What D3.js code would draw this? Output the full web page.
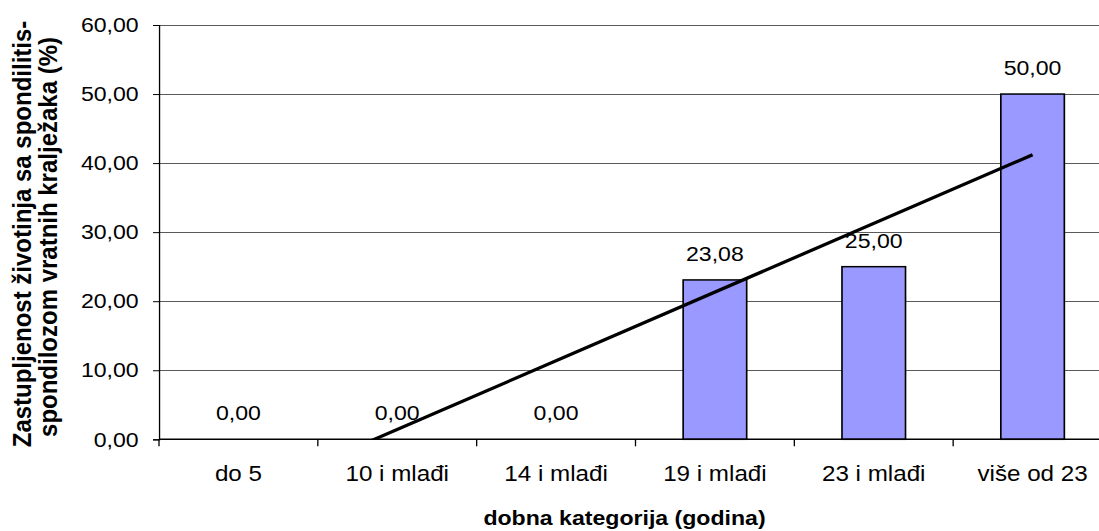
<!DOCTYPE html>
<html>
<head>
<meta charset="utf-8">
<script src="https://cdn.jsdelivr.net/npm/d3@7"></script>
<style>
    html, body { margin: 0; padding: 0; background: #fff; }
    svg { display: block; font-family: Arial, "Liberation Sans", sans-serif; }
</style>
</head>
<body>
<svg id="chart"></svg>
<script>
const categories = ['do 5', '10 i mlađi', '14 i mlađi', '19 i mlađi', '23 i mlađi', 'više od 23'];
const values     = [0, 0, 0, 23.08, 25, 50];
const yTicks     = [0, 10, 20, 30, 40, 50, 60];
const xTitle     = 'dobna kategorija (godina)';
const yTitle     = ['Zastupljenost životinja sa spondilitis-', 'spondilozom vratnih kralježaka (%)'];

const WIDTH  = 1099;
const HEIGHT = 531;
const SX     = 1.1;           // the source picture is a little wider than tall text would be

const BAR_COLOR = '#9999ff';

const hr = d3.formatLocale({ decimal: ',', thousands: '.', grouping: [3], currency: ['', ''] });
const fmt = hr.format('.2f');

const svg = d3.select('#chart')
    .attr('width', WIDTH)
    .attr('height', HEIGHT);

const root = svg.append('g').attr('transform', `scale(${SX},1)`);

// plot area, in unscaled units
const plotLeft   = 159 / SX;
const plotRight  = 1112 / SX;      // runs past the right edge like the original crop
const plotTop    = 25;
const plotBottom = 439.3;

const xCat = d3.scaleBand().domain(categories).range([plotLeft, plotRight]).padding(0);
const xBar = d3.scaleBand().domain(categories).range([plotLeft, plotRight]).paddingInner(0.6).paddingOuter(0.3);
const y    = d3.scaleLinear().domain([0, 60]).range([plotBottom, plotTop]);

// ── gridlines ──
root.append('g')
    .selectAll('line')
    .data(yTicks.filter(d => d > 0))
    .join('line')
    .attr('x1', plotLeft).attr('x2', plotRight)
    .attr('y1', d => Math.round(y(d)) + 0.5).attr('y2', d => Math.round(y(d)) + 0.5)
    .attr('stroke', '#5a5a5a')
    .attr('stroke-width', 1);

// ── y axis ──
const yAxis = root.append('g')
    .attr('transform', `translate(${plotLeft},0)`)
    .call(d3.axisLeft(y).tickValues(yTicks).tickFormat(fmt).tickSize(6 / SX).tickPadding(13));
yAxis.select('.domain').attr('stroke', '#000').attr('stroke-width', 1.2);
yAxis.selectAll('.tick line').attr('stroke', '#000');
yAxis.selectAll('.tick text')
    .attr('font-size', '21px')
    .attr('font-family', 'Arial, "Liberation Sans", sans-serif')
    .attr('fill', '#000');

// ── bars ──
const chart = root.append('g');
chart.selectAll('rect')
    .data(values.map((v, i) => ({ cat: categories[i], v })).filter(d => d.v > 0))
    .join('rect')
    .attr('x', d => xBar(d.cat))
    .attr('y', d => y(d.v))
    .attr('width', xBar.bandwidth())
    .attr('height', d => y(0) - y(d.v))
    .attr('fill', BAR_COLOR)
    .attr('stroke', '#000')
    .attr('stroke-width', 1.5);

// ── x axis ──
root.append('line')
    .attr('x1', plotLeft).attr('x2', plotRight)
    .attr('y1', y(0)).attr('y2', y(0))
    .attr('stroke', '#000')
    .attr('stroke-width', 1.4);

root.append('g')
    .selectAll('line')
    .data(categories.concat(['__end']))
    .join('line')
    .attr('x1', d => d === '__end' ? plotRight : xCat(d))
    .attr('x2', d => d === '__end' ? plotRight : xCat(d))
    .attr('y1', y(0)).attr('y2', y(0) + 7)
    .attr('stroke', '#000')
    .attr('stroke-width', 1.2);

root.append('g')
    .selectAll('text')
    .data(categories)
    .join('text')
    .attr('x', d => xCat(d) + xCat.bandwidth() / 2)
    .attr('y', 481)
    .attr('text-anchor', 'middle')
    .attr('font-size', '22px')
    .text(d => d);

// ── trendline (least squares over category index), clipped to the plot ──
root.append('clipPath')
    .attr('id', 'plot-clip')
    .append('rect')
    .attr('x', plotLeft).attr('y', plotTop)
    .attr('width', plotRight - plotLeft).attr('height', plotBottom - plotTop);

const idx   = values.map((_, i) => i + 1);
const mx    = d3.mean(idx);
const my    = d3.mean(values);
const slope = d3.sum(idx, (xi, i) => (xi - mx) * (values[i] - my)) / d3.sum(idx, xi => (xi - mx) ** 2);
const icpt  = my - slope * mx;
const xIdx  = d3.scaleLinear()
    .domain([1, categories.length])
    .range([xCat(categories[0]) + xCat.bandwidth() / 2,
            xCat(categories[categories.length - 1]) + xCat.bandwidth() / 2]);

root.append('path')
    .datum([1, categories.length])
    .attr('clip-path', 'url(#plot-clip)')
    .attr('d', d3.line().x(d => xIdx(d)).y(d => y(icpt + slope * d)))
    .attr('fill', 'none')
    .attr('stroke', '#000')
    .attr('stroke-width', 3.2);

// ── data labels ──
root.append('g')
    .selectAll('text')
    .data(values.map((v, i) => ({ cat: categories[i], v })))
    .join('text')
    .attr('x', d => xCat(d.cat) + xCat.bandwidth() / 2)
    .attr('y', d => y(d.v) - 19)
    .attr('text-anchor', 'middle')
    .attr('font-size', '21px')
    .text(d => fmt(d.v));

// ── axis titles ──
root.append('text')
    .attr('x', 624.5 / SX)
    .attr('y', 525)
    .attr('text-anchor', 'middle')
    .attr('font-size', '21px')
    .attr('font-weight', 'bold')
    .text(xTitle);

root.append('g')
    .selectAll('text')
    .data(yTitle)
    .join('text')
    .attr('transform', (d, i) => `translate(${(i === 0 ? 31 : 57) / SX},${i === 0 ? 234 : 237}) rotate(-90)`)
    .attr('text-anchor', 'middle')
    .attr('font-size', '24px')
    .attr('font-weight', 'bold')
    .text(d => d);
</script>
</body>
</html>
